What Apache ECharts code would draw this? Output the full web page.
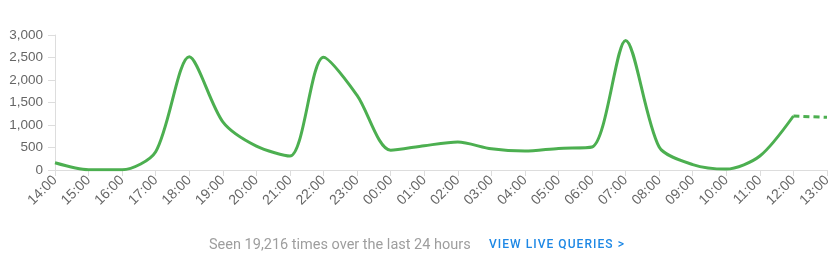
<!DOCTYPE html>
<html>
<head>
<meta charset="utf-8">
<script src="https://cdn.jsdelivr.net/npm/echarts@6/dist/echarts.min.js"></script>
<style>
html,body{margin:0;padding:0;background:#fff;}
#chart{width:840px;height:280px;}
</style>
</head>
<body>
<div id="chart"></div>
<script>
const categories = ['14:00','15:00','16:00','17:00','18:00','19:00','20:00','21:00','22:00','23:00','00:00','01:00','02:00','03:00','04:00','05:00','06:00','07:00','08:00','09:00','10:00','11:00','12:00','13:00'];
const solidValues = [160, 5, 5, 405, 2515, 1070, 530, 310, 2505, 1660, 440, 540, 620, 470, 420, 480, 510, 2880, 510, 120, 20, 310, 1200, null];
const projectedValues = [null,null,null,null,null,null,null,null,null,null,null,null,null,null,null,null,null,null,null,null,null,null,1200, 1170];
const yTicks = [0, 500, 1000, 1500, 2000, 2500, 3000];
const footerText = 'Seen 19,216 times over the last 24 hours';
const linkText = 'VIEW LIVE QUERIES >';

const chart = echarts.init(document.getElementById('chart'), null, {renderer:'canvas'});
const green = '#4caf50';

// letter-spaced link text built from per-character text elements
const linkFont = '500 12px Roboto';
const spacing = 1.05;
const ctx = document.createElement('canvas').getContext('2d');
ctx.font = linkFont;
const linkChars = [];
let cx = 489;
for (const ch of linkText) {
  linkChars.push({type: 'text', x: cx, y: 239, style: {text: ch, fill: '#1e88e5', font: linkFont}});
  cx += ctx.measureText(ch).width + spacing;
}

chart.setOption({
  animation: false,
  grid: {left: 55, right: 13, top: 35, bottom: 110, containLabel: false},
  xAxis: {
    type: 'category',
    data: categories,
    boundaryGap: false,
    axisLine: {lineStyle: {color: '#dddddd'}},
    axisTick: {length: 6, lineStyle: {color: '#dddddd'}},
    axisLabel: {rotate: 45, color: '#666', fontSize: 14, fontFamily: 'Liberation Sans, Arial', margin: 8, interval: 0}
  },
  yAxis: {
    type: 'value',
    min: yTicks[0],
    max: yTicks[yTicks.length - 1],
    interval: 500,
    axisLine: {show: true, lineStyle: {color: '#dddddd'}},
    axisTick: {show: true, length: 7, lineStyle: {color: '#dddddd'}},
    splitLine: {show: false},
    axisLabel: {color: '#666', fontSize: 13.5, fontFamily: 'Liberation Sans, Arial', margin: 12,
      formatter: v => v.toLocaleString('en-US')}
  },
  series: [
    {type: 'line', data: solidValues, smooth: 0.28, showSymbol: false, symbol: 'none',
     lineStyle: {color: green, width: 3}, connectNulls: false},
    {type: 'line', data: projectedValues, smooth: 0.28, showSymbol: false, symbol: 'none',
     lineStyle: {color: green, width: 3, type: [6, 4]}}
  ],
  graphic: [
    {type: 'text', x: 209, y: 238, style: {text: footerText, fill: '#9e9e9e', font: '14.5px Roboto'}}
  ].concat(linkChars)
});
</script>
</body>
</html>
